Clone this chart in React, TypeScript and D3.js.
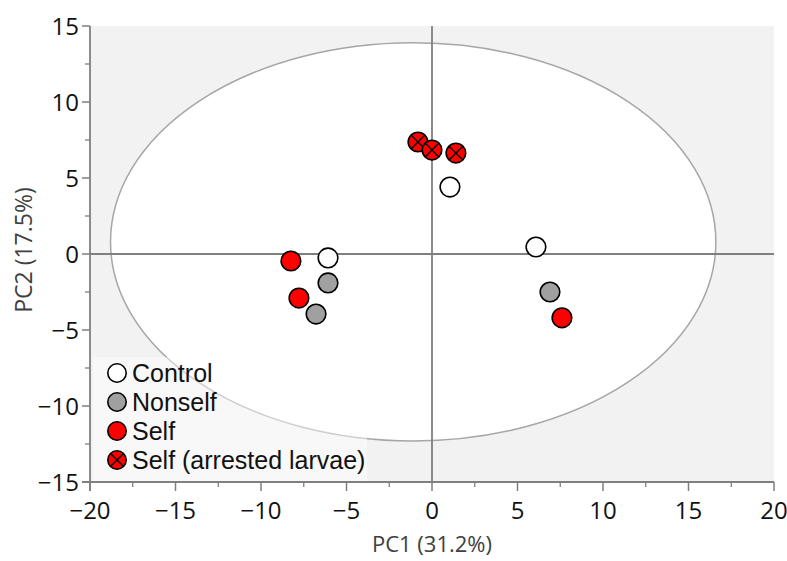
import React from "react";
import * as d3 from "d3";

const groups = ["Control", "Nonself", "Self", "Self (arrested larvae)"];
const groupFill = ["#ffffff", "#a0a0a0", "#ff0000", "#ff0000"];
const groupCross = [false, false, false, true];

const controlPC1 = [-6.08, 1.05, 6.08];
const controlPC2 = [-0.26, 4.4, 0.46];
const nonselfPC1 = [-6.08, -6.78, 6.9];
const nonselfPC2 = [-1.9, -3.95, -2.5];
const selfPC1 = [-8.25, -7.78, 7.6];
const selfPC2 = [-0.46, -2.9, -4.2];
const arrestedPC1 = [-0.82, 0.0, 1.4];
const arrestedPC2 = [7.37, 6.84, 6.64];

const xTicks = [-20, -15, -10, -5, 0, 5, 10, 15, 20];
const yTicks = [-15, -10, -5, 0, 5, 10, 15];
const xMinor = [-17.5, -12.5, -7.5, -2.5, 2.5, 7.5, 12.5, 17.5];
const yMinor = [-12.5, -7.5, -2.5, 2.5, 7.5, 12.5];

const ellipseCenter = [-1.1, 0.8];
const ellipseRadii = [17.7, 13.1];

const W = 787;
const H = 561;

function Marker({ cx, cy, r, fill, cross }: any) {
  const d = r / Math.SQRT2;
  return (
    <g>
      <circle cx={cx} cy={cy} r={r} fill={fill} stroke="#000" strokeWidth={1.6} />
      {cross && (
        <g stroke="#000" strokeWidth={1.4}>
          <line x1={cx - d} y1={cy - d} x2={cx + d} y2={cy + d} />
          <line x1={cx - d} y1={cy + d} x2={cx + d} y2={cy - d} />
        </g>
      )}
    </g>
  );
}

export default function App() {
  const x = d3.scaleLinear().domain([-20, 20]).range([90, 774]);
  const y = d3.scaleLinear().domain([-15, 15]).range([482, 26]);
  const series = [
    [controlPC1, controlPC2],
    [nonselfPC1, nonselfPC2],
    [selfPC1, selfPC2],
    [arrestedPC1, arrestedPC2],
  ];
  const font = "'Open Sans', sans-serif";
  const legFont = "'Liberation Sans', Arial, sans-serif";
  const axisColor = "#7f7f7f";
  const r = 9.8;
  const ex = x(ellipseCenter[0]);
  const ey = y(ellipseCenter[1]);
  const erx = x(ellipseRadii[0]) - x(0);
  const ery = y(0) - y(ellipseRadii[1]);
  const legX = 117;
  const legY0 = 373;
  const legDy = 29;
  return (
    <svg width={W} height={H} style={{ position: "absolute", left: 0, top: 0, background: "#fff" }} fontFamily={font}>
      <rect x={x(-20)} y={y(15)} width={x(20) - x(-20)} height={y(-15) - y(15)} fill="#f2f2f2" />
      <ellipse cx={ex} cy={ey} rx={erx} ry={ery} fill="#ffffff" stroke="#a6a6a6" strokeWidth={1.5} />
      {/* crosshair */}
      <line x1={x(0)} x2={x(0)} y1={y(15)} y2={y(-15)} stroke={axisColor} strokeWidth={1.8} />
      <line x1={x(-20)} x2={x(20)} y1={y(0)} y2={y(0)} stroke={axisColor} strokeWidth={1.8} />
      {/* legend box */}
      <rect x={93} y={357} width={274} height={124} fill="#ffffff" fillOpacity={0.45} />
      {/* axes */}
      <line x1={x(-20)} x2={x(-20)} y1={y(15)} y2={y(-15) + 9} stroke={axisColor} strokeWidth={1.8} />
      <line x1={x(-20) - 8} x2={x(20)} y1={y(-15)} y2={y(-15)} stroke={axisColor} strokeWidth={1.8} />
      {yTicks.map((t) => (
        <g key={"y" + t}>
          <line x1={x(-20) - 8} x2={x(-20)} y1={y(t)} y2={y(t)} stroke={axisColor} strokeWidth={1.5} />
          <text x={x(-20) - 11} y={y(t)} dy="0.36em" textAnchor="end" fontSize={24} fill="#111">
            {t < 0 ? "\u2212" + Math.abs(t) : t}
          </text>
        </g>
      ))}
      {yMinor.map((t) => (
        <line key={"ym" + t} x1={x(-20) - 5} x2={x(-20)} y1={y(t)} y2={y(t)} stroke={axisColor} strokeWidth={1.3} />
      ))}
      {xTicks.map((t) => (
        <g key={"x" + t}>
          <line x1={x(t)} x2={x(t)} y1={y(-15)} y2={y(-15) + 9} stroke={axisColor} strokeWidth={1.5} />
          <text x={x(t)} y={y(-15) + 37} textAnchor="middle" fontSize={24} fill="#111">
            {t < 0 ? "\u2212" + Math.abs(t) : t}
          </text>
        </g>
      ))}
      {xMinor.map((t) => (
        <line key={"xm" + t} x1={x(t)} x2={x(t)} y1={y(-15)} y2={y(-15) + 5} stroke={axisColor} strokeWidth={1.3} />
      ))}
      <text x={x(0)} y={552} textAnchor="middle" fontSize={22} fill="#404040">PC1 (31.2%)</text>
      <text transform={`translate(32,${y(0) - 4}) rotate(-90)`} textAnchor="middle" fontSize={23} fill="#404040">PC2 (17.5%)</text>
      {/* points */}
      {series.map(([xs, ys], gi) =>
        xs.map((v, i) => (
          <Marker key={gi + "-" + i} cx={x(v)} cy={y(ys[i])} r={r} fill={groupFill[gi]} cross={groupCross[gi]} />
        ))
      )}
      {/* legend */}
      {groups.map((g, i) => (
        <g key={g}>
          <Marker cx={legX} cy={legY0 + i * legDy} r={9.2} fill={groupFill[i]} cross={groupCross[i]} />
          <text x={legX + 15} y={legY0 + i * legDy} dy="0.36em" fontSize={25} fill="#111" fontFamily={legFont}>{g}</text>
        </g>
      ))}
    </svg>
  );
}
